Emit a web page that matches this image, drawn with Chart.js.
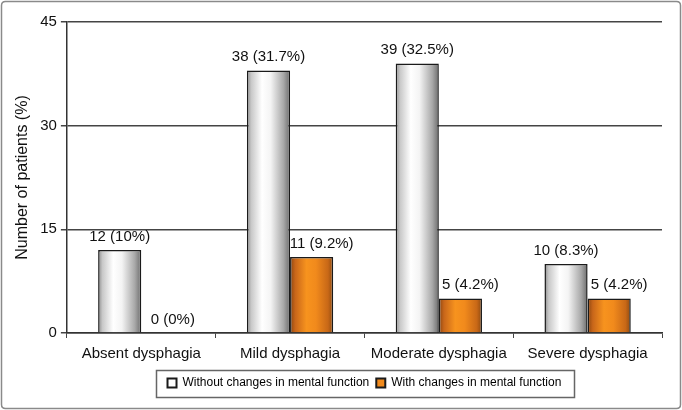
<!DOCTYPE html>
<html>
<head>
<meta charset="utf-8">
<script src="https://cdn.jsdelivr.net/npm/chart.js@4"></script>
<style>
  html, body { margin: 0; padding: 0; background: #fff; }
  #wrap { position: relative; width: 682px; height: 410px; }
  canvas { display: block; }
</style>
</head>
<body>
<div id="wrap"><canvas id="c" width="682" height="410"></canvas></div>
<script>
const categories = ["Absent dysphagia", "Mild dysphagia", "Moderate dysphagia", "Severe dysphagia"];
const seriesNames = ["Without changes in mental function", "With changes in mental function"];
const withoutCounts = [12, 38, 39, 10];
const withoutPct = ["10", "31.7", "32.5", "8.3"];
const withCounts = [0, 11, 5, 5];
const withPct = ["0", "9.2", "4.2", "4.2"];
const yTicks = [0, 15, 30, 45];

const FONT = "'Liberation Sans', Arial, sans-serif";
const CAT_PCT = 0.58;

function barGradient(ctx, kind) {
  const chart = ctx.chart;
  const xs = chart.scales.x;
  if (!xs || !isFinite(xs.width) || xs.width <= 0) {
    return kind === 0 ? '#dddddd' : '#f08a1e';
  }
  const idx = ctx.dataIndex;
  const cw = xs.width / categories.length;
  const center = xs.getPixelForValue(idx);
  const bw = cw * CAT_PCT / 2;
  const left = center - cw * CAT_PCT / 2 + kind * bw;
  const g = chart.ctx.createLinearGradient(left, 0, left + bw, 0);
  if (kind === 0) {
    g.addColorStop(0, '#8c8c8c');
    g.addColorStop(0.1, '#c8c8c8');
    g.addColorStop(0.35, '#ffffff');
    g.addColorStop(0.55, '#f4f4f4');
    g.addColorStop(0.85, '#a8a8a8');
    g.addColorStop(1, '#6c6c6c');
  } else {
    g.addColorStop(0, '#8a4510');
    g.addColorStop(0.12, '#c8661a');
    g.addColorStop(0.38, '#f7931e');
    g.addColorStop(0.6, '#f18a1c');
    g.addColorStop(0.88, '#c86817');
    g.addColorStop(1, '#8e4a10');
  }
  return g;
}

const labelPlugin = {
  id: 'barLabels',
  afterDatasetsDraw(chart) {
    const ctx = chart.ctx;
    const ys = chart.scales.y;
    ctx.save();
    ctx.font = "15px " + FONT;
    ctx.fillStyle = '#111';
    ctx.textAlign = 'center';
    ctx.textBaseline = 'bottom';
    const sets = [[withoutCounts, withoutPct, 0], [withCounts, withPct, 10]];
    sets.forEach((s, di) => {
      const meta = chart.getDatasetMeta(di);
      meta.data.forEach((el, i) => {
        const txt = s[0][i] + " (" + s[1][i] + "%)";
        const yTop = ys.getPixelForValue(s[0][i]);
        ctx.fillText(txt, el.x + s[2], yTop - 6);
      });
    });
    ctx.restore();
  }
};

const framePlugin = {
  id: 'frames',
  afterDraw(chart) {
    const ctx = chart.ctx;
    ctx.save();
    ctx.strokeStyle = '#8a8a8a';
    ctx.lineWidth = 1.5;
    const r = 4, x0 = 1.5, y0 = 1.5, x1 = 680.5, y1 = 408.5;
    ctx.beginPath();
    ctx.moveTo(x0 + r, y0);
    ctx.lineTo(x1 - r, y0); ctx.quadraticCurveTo(x1, y0, x1, y0 + r);
    ctx.lineTo(x1, y1 - r); ctx.quadraticCurveTo(x1, y1, x1 - r, y1);
    ctx.lineTo(x0 + r, y1); ctx.quadraticCurveTo(x0, y1, x0, y1 - r);
    ctx.lineTo(x0, y0 + r); ctx.quadraticCurveTo(x0, y0, x0 + r, y0);
    ctx.stroke();
    const lg = chart.legend;
    if (lg && lg.legendHitBoxes && lg.legendHitBoxes.length) {
      let minX = Infinity, maxX = -Infinity, minY = Infinity, maxY = -Infinity;
      lg.legendHitBoxes.forEach(b => {
        minX = Math.min(minX, b.left); maxX = Math.max(maxX, b.left + b.width);
        minY = Math.min(minY, b.top); maxY = Math.max(maxY, b.top + b.height);
      });
      const cy = (minY + maxY) / 2;
      ctx.strokeStyle = '#666';
      ctx.lineWidth = 1.5;
      ctx.strokeRect(Math.round(minX - 12) + 0.5, Math.round(cy - 13.5) + 0.5, Math.round(maxX - minX + 24), 27);
    }
    ctx.restore();
  }
};

new Chart(document.getElementById('c'), {
  type: 'bar',
  data: {
    labels: categories,
    datasets: [
      {
        label: seriesNames[0],
        data: withoutCounts,
        backgroundColor: (ctx) => barGradient(ctx, 0),
        borderColor: '#1a1a1a',
        borderWidth: 1.5,
        categoryPercentage: CAT_PCT,
        barPercentage: 1.0
      },
      {
        label: seriesNames[1],
        data: withCounts,
        backgroundColor: (ctx) => barGradient(ctx, 1),
        borderColor: '#1a1a1a',
        borderWidth: 1.5,
        categoryPercentage: CAT_PCT,
        barPercentage: 1.0
      }
    ]
  },
  options: {
    responsive: false,
    animation: false,
    devicePixelRatio: 1,
    layout: { padding: { left: 13, right: 20, top: 22, bottom: 11 } },
    plugins: {
      tooltip: { enabled: false },
      legend: {
        position: 'bottom',
        fullSize: false,
        labels: {
          font: { size: 12, family: FONT },
          color: '#111',
          boxWidth: 9,
          boxHeight: 9,
          padding: 7,
          generateLabels: () => [
            { text: seriesNames[0], fillStyle: '#ffffff', strokeStyle: '#1a1a1a', lineWidth: 2, datasetIndex: 0, hidden: false },
            { text: seriesNames[1], fillStyle: '#f18a1c', strokeStyle: '#1a1a1a', lineWidth: 2, datasetIndex: 1, hidden: false }
          ]
        }
      }
    },
    scales: {
      x: {
        offset: true,
        grid: {
          offset: true,
          drawOnChartArea: false,
          drawTicks: true,
          tickLength: 5,
          color: '#444',
          lineWidth: 1
        },
        border: { display: true, color: '#333', width: 1.5 },
        ticks: {
          font: { size: 15, family: FONT },
          color: '#111',
          padding: 7,
          maxRotation: 0
        }
      },
      y: {
        min: 0,
        max: 45,
        afterBuildTicks: (scale) => { scale.ticks = yTicks.map(v => ({ value: v })); },
        grid: {
          color: '#444',
          lineWidth: 1.5,
          tickLength: 6,
          drawTicks: true
        },
        border: { display: true, color: '#333', width: 1.5 },
        ticks: {
          font: { size: 15, family: FONT },
          color: '#111',
          padding: 4
        },
        title: {
          display: true,
          text: 'Number of patients (%)',
          font: { size: 16, family: FONT },
          color: '#111',
          padding: { top: 0, bottom: 4 }
        }
      }
    }
  },
  plugins: [labelPlugin, framePlugin]
});
</script>
</body>
</html>
